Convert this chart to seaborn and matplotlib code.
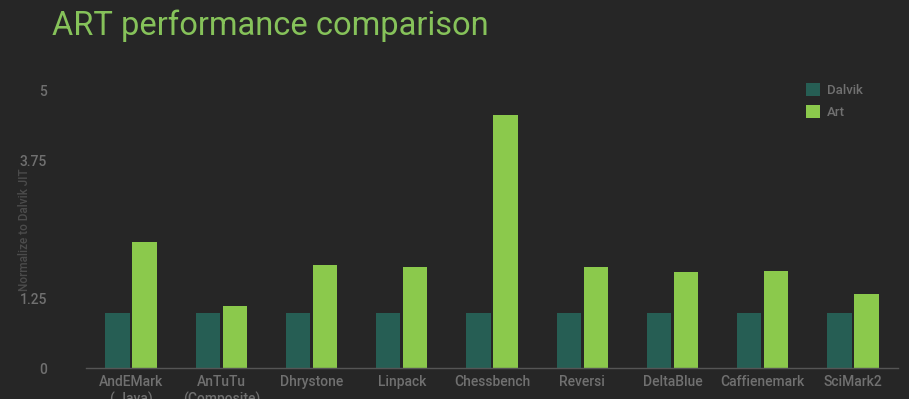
import numpy as np
import pandas as pd
import matplotlib
matplotlib.use('Agg')
import matplotlib.pyplot as plt
import seaborn as sns

# Datos
benchmarks = ['AndEMark\n( Java)', 'AnTuTu\n(Composite)', 'Dhrystone', 'Linpack',
              'Chessbench', 'Reversi', 'DeltaBlue', 'Caffienemark', 'SciMark2']
dalvik = [1.0, 1.0, 1.0, 1.0, 1.0, 1.0, 1.0, 1.0, 1.0]
art = [2.27, 1.12, 1.86, 1.82, 4.57, 1.82, 1.73, 1.75, 1.34]
y_ticks = [0, 1.25, 3.75, 5]

df = pd.DataFrame({
    'bench': benchmarks * 2,
    'valor': dalvik + art,
    'serie': ['Dalvik'] * len(dalvik) + ['Art'] * len(art),
})

bg = '#262626'
txt = '#707070'
sns.set_style('dark')
plt.rcParams['font.family'] = ['Roboto', 'DejaVu Sans']

fig = plt.figure(figsize=(9.09, 3.99), dpi=100, facecolor=bg)
ax = fig.add_axes([86 / 909, 31 / 399, 812 / 909, 277 / 399])
ax.set_facecolor(bg)

sns.barplot(data=df, x='bench', y='valor', hue='serie', ax=ax,
            palette={'Dalvik': '#265e54', 'Art': '#8bc94c'},
            width=0.6, gap=0.1, saturation=1, edgecolor='none')

ax.set_ylim(0, 5)
ax.set_xlim(-0.5, len(benchmarks) - 0.5)
ax.set_yticks(y_ticks)
ax.set_yticklabels(['0', '1.25', '3.75', '5'])
ax.tick_params(axis='both', length=0, colors=txt, labelsize=10)
ax.tick_params(axis='y', pad=28)
ax.tick_params(axis='x', pad=5)
for lab in ax.get_xticklabels() + ax.get_yticklabels():
    lab.set_fontweight('medium')
ax.set_xlabel('')
ax.set_ylabel('')
ax.grid(False)
for s in ['top', 'right', 'left']:
    ax.spines[s].set_visible(False)
ax.spines['bottom'].set_color('#555555')
ax.spines['bottom'].set_linewidth(1)

leg = ax.legend(loc='upper left', bbox_to_anchor=(0.872, 1.07), frameon=False,
                prop={'size': 9.5, 'weight': 'medium'}, handlelength=1.1,
                handleheight=1.1, handletextpad=0.5, labelspacing=0.6)
for t in leg.get_texts():
    t.set_color(txt)

fig.text(25 / 909, 1 - 230 / 399, 'Normalize to Dalvik JIT', color='#4c4c4c',
         fontsize=8.5, rotation=90, ha='center', va='center', fontweight='medium')
fig.text(52 / 909, 1 - 35 / 399, 'ART performance comparison', color='#86c25a',
         fontsize=23.5, ha='left', va='baseline')

fig.savefig('out.png', dpi=100, facecolor=bg)
